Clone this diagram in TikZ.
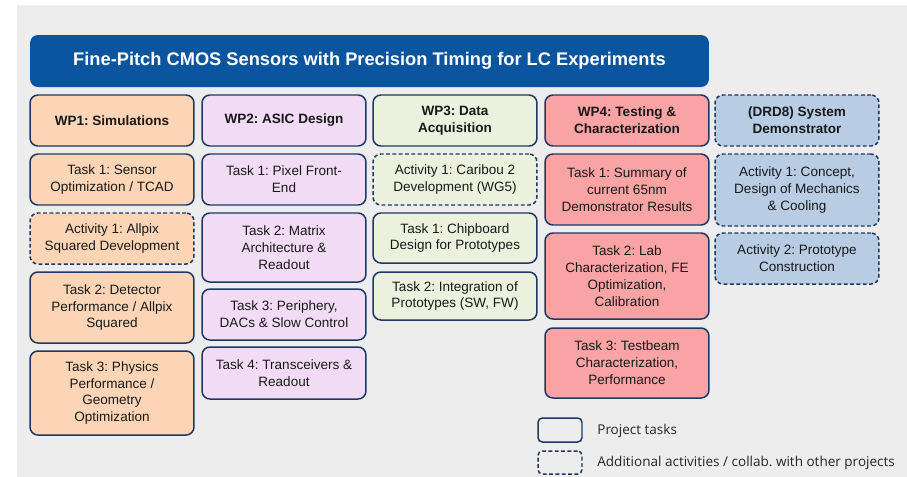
\documentclass[tikz,border=0pt]{standalone}
\usepackage{fontspec}
\setmainfont{Liberation Sans}
\newfontfamily\legendfont{Open Sans}
\usetikzlibrary{positioning}
\frenchspacing

\begin{document}
\begin{tikzpicture}[x=0.02cm,y=-0.02cm,
    wpbox/.style={draw=navyline,line width=0.85pt,rounded corners=4.5pt,align=center,
        minimum width=3.28cm,inner sep=0pt,text=black!90,font=\fontsize{7.7}{9.6}\selectfont},
    wphead/.style={wpbox,font=\fontsize{7.7}{9.6}\selectfont\bfseries},
    extra/.style={dash pattern=on 2.2pt off 1.4pt},
    tall/.style={minimum height=#1*0.02cm}]
    % Definición de colores
    \definecolor{bgcolor}{HTML}{EDEDED}
    \definecolor{titlecolor}{HTML}{0B559F}
    \definecolor{navyline}{HTML}{1F3864}
    \definecolor{simcolor}{HTML}{FBD5B5}
    \definecolor{asiccolor}{HTML}{F2DCF5}
    \definecolor{daqcolor}{HTML}{EBF1DC}
    \definecolor{testcolor}{HTML}{F9A3A4}
    \definecolor{democolor}{HTML}{B8CCE4}

    % Fondo
    \useasboundingbox (0,0) rectangle (907,477);
    \fill[bgcolor] (17,5) rectangle (907,477);

    % Título
    \node[fill=titlecolor,rounded corners=4.5pt,minimum width=13.58cm,tall=52,
        text=white,font=\fontsize{10.4}{12}\selectfont\bfseries] (title) at (369.5,61)
        {Fine-Pitch CMOS Sensors with Precision Timing for LC Experiments};

    % WP1
    \node[wphead,fill=simcolor,tall=51] (wpA) at (112,120.5) {WP1: Simulations};
    \node[wpbox,fill=simcolor,tall=51] (simA) at (112,179.5) {Task 1: Sensor\\Optimization / TCAD};
    \node[wpbox,extra,fill=simcolor,tall=51] (simB) at (112,238.5) {Activity 1: Allpix\\Squared Development};
    \node[wpbox,fill=simcolor,tall=71] (simC) at (112,307.5) {Task 2: Detector\\Performance / Allpix\\Squared};
    \node[wpbox,fill=simcolor,tall=84] (simD) at (112,393) {Task 3: Physics\\Performance /\\Geometry\\Optimization};

    % WP2
    \node[wphead,fill=asiccolor,tall=51] (wpB) at (284,120.5) {WP2: ASIC Design};
    \node[wpbox,fill=asiccolor,tall=51] (asicA) at (284,179.5) {Task 1: Pixel Front-\\End};
    \node[wpbox,fill=asiccolor,tall=69] (asicB) at (284,247.5) {Task 2: Matrix\\Architecture \&\\Readout};
    \node[wpbox,fill=asiccolor,tall=51] (asicC) at (284,314.5) {Task 3: Periphery,\\DACs \& Slow Control};
    \node[wpbox,fill=asiccolor,tall=52] (asicD) at (284,373) {Task 4: Transceivers \&\\Readout};

    % WP3
    \node[wphead,fill=daqcolor,tall=51] (wpC) at (455,120.5) {WP3: Data\\Acquisition};
    \node[wpbox,extra,fill=daqcolor,tall=51] (daqA) at (455,179.5) {Activity 1: Caribou 2\\Development (WG5)};
    \node[wpbox,fill=daqcolor,tall=50] (daqB) at (455,238) {Task 1: Chipboard\\Design for Prototypes};
    \node[wpbox,fill=daqcolor,tall=48] (daqC) at (455,296) {Task 2: Integration of\\Prototypes (SW, FW)};

    % WP4
    \node[wphead,fill=testcolor,tall=51] (wpD) at (627,120.5) {WP4: Testing \&\\Characterization};
    \node[wpbox,fill=testcolor,tall=71] (testA) at (627,189.5) {Task 1: Summary of\\current 65nm\\Demonstrator Results};
    \node[wpbox,fill=testcolor,tall=86] (testB) at (627,276) {Task 2: Lab\\Characterization, FE\\Optimization,\\Calibration};
    \node[wpbox,fill=testcolor,tall=70] (testC) at (627,363) {Task 3: Testbeam\\Characterization,\\Performance};

    % DRD8
    \node[wphead,extra,fill=democolor,tall=51] (wpE) at (797,120.5) {(DRD8) System\\Demonstrator};
    \node[wpbox,extra,fill=democolor,tall=72] (demoA) at (797,190) {Activity 1: Concept,\\Design of Mechanics\\\& Cooling};
    \node[wpbox,extra,fill=democolor,tall=51] (demoB) at (797,258.5) {Activity 2: Prototype\\Construction};

    % Leyenda
    \node[draw=navyline,line width=0.85pt,rounded corners=2.5pt,minimum width=0.88cm,tall=24] (keyA) at (560,430) {};
    \node[draw=navyline,line width=0.85pt,extra,rounded corners=2.5pt,minimum width=0.88cm,tall=23] (keyB) at (560,462.5) {};
    \node[anchor=west,inner sep=0pt,font=\legendfont\fontsize{7.7}{9}\selectfont,text=black!85] (keyAtext) at (597,431) {Project tasks};
    \node[anchor=west,inner sep=0pt,font=\legendfont\fontsize{7.7}{9}\selectfont,text=black!85] (keyBtext) at (597,463) {Additional activities / collab. with other projects};

\end{tikzpicture}
\end{document}
